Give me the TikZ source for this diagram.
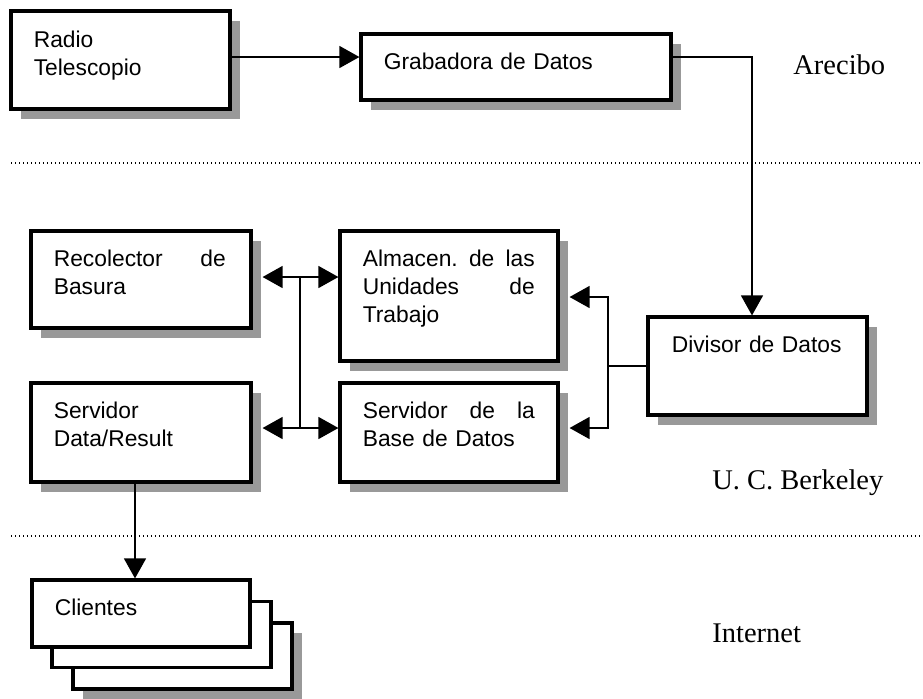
\documentclass[tikz,border=0pt]{standalone}
\usepackage{fontspec}
\setmainfont{Liberation Serif}
\setsansfont{Liberation Sans}
\usetikzlibrary{
arrows.meta,
calc,
positioning,
shadows
}

\begin{document}
\begin{tikzpicture}[x=0.5pt, y=-0.5pt, font=\sffamily\fontsize{11.4}{14}\selectfont]
		\definecolor{shadowcolor}{gray}{0.6}
		\tikzset{flat/.style={draw, line width=1.6pt, fill=white, inner sep=0pt}}
		\tikzset{box/.style={flat, drop shadow={shadow xshift=5pt, shadow yshift=-5pt, fill=shadowcolor, opacity=1}}}
		\tikzset{txt/.style={below right, inner sep=0pt, text width=86pt, align=left}}
		\tikzset{sa/.style={-{Triangle[length=10pt,width=11pt]}, line width=0.7pt}}
		\tikzset{sep/.style={dash pattern=on 0.6pt off 1.4pt, line width=0.6pt}}
		\tikzset{site/.style={anchor=base west, inner sep=0pt, font=\rmfamily\fontsize{14.25}{17}\selectfont}}

		\useasboundingbox (0,0) rectangle (923,698);

		% Arecibo
		\node[box, minimum width=109.5pt, minimum height=49pt] (radio) at (120.5,60) {};
		\node[txt] at ([xshift=12pt,yshift=-10.5pt]radio.north west) {Radio\\Telescopio};

		\node[box, minimum width=155pt, minimum height=33pt] (grab) at (516,67) {};
		\node[txt, text width=140pt] at ([xshift=12pt,yshift=-10pt]grab.north west) {Grabadora de Datos};

		\node[site] (arecibo) at (793,74) {Arecibo};
		\draw[sep] (11,163) -- (923,163);

		% U. C. Berkeley
		\node[box, minimum width=110pt, minimum height=48.5pt] (recol) at (141,279.5) {};
		\node[txt] at ([xshift=12pt,yshift=-10pt]recol.north west) {Recolector\hfill de\\Basura};

		\node[box, minimum width=109pt, minimum height=65pt] (almac) at (449,296) {};
		\node[txt] at ([xshift=12pt,yshift=-10pt]almac.north west) {Almacen.\hfill de\hfill las\\Unidades\hfill de\\Trabajo};

		\node[box, minimum width=109.5pt, minimum height=49pt] (divis) at (757.5,366) {};
		\node[txt] at ([xshift=12.5pt,yshift=-10pt]divis.north west) {Divisor de Datos};

		\node[box, minimum width=110pt, minimum height=49.5pt] (servdr) at (141,432.5) {};
		\node[txt] at ([xshift=12pt,yshift=-10pt]servdr.north west) {Servidor\\Data/Result};

		\node[box, minimum width=109pt, minimum height=49.5pt] (servbd) at (449,432.5) {};
		\node[txt] at ([xshift=12pt,yshift=-10pt]servbd.north west) {Servidor\hfill de\hfill la\\Base de Datos};

		\node[site] (berkeley) at (712,489) {U. C. Berkeley};
		\draw[sep] (11,536) -- (923,536);

		% Internet
		\node[box, minimum width=109.5pt, minimum height=33pt] (cli3) at (182.5,656) {};
		\node[flat, minimum width=109.5pt, minimum height=33pt] (cli2) at (161.5,634.5) {};
		\node[flat, minimum width=109pt, minimum height=33.5pt] (cli1) at (141,613.5) {};
		\node[txt] at ([xshift=12pt,yshift=-10pt]cli1.north west) {Clientes};

		\node[site] (internet) at (712,642) {Internet};

		% Connectors
		\coordinate (bustop) at (300,277);
		\coordinate (busbot) at (300,428);
		\coordinate (forktop) at (608,297);
		\coordinate (forkbot) at (608,428);

		\draw[sa] ([yshift=1.5pt]radio.east) -- ([yshift=1.5pt]radio.east -| grab.west);
		\draw[sa] ([yshift=5pt]grab.east) -| ([xshift=-2.75pt]divis.north);
		\draw[line width=0.7pt] (bustop) -- (busbot);
		\draw[sa] (bustop) -- ([xshift=5pt]bustop -| recol.east);
		\draw[sa] (bustop) -- (bustop -| almac.west);
		\draw[sa] (busbot) -- ([xshift=5pt]busbot -| servdr.east);
		\draw[sa] (busbot) -- (busbot -| servbd.west);
		\draw[sa] (divis.west) -| (forktop) -- ([xshift=5pt]forktop -| almac.east);
		\draw[sa] (divis.west) -| (forkbot) -- ([xshift=5pt]forkbot -| servbd.east);
		\draw[sa] ([xshift=-3pt]servdr.south) -- ([xshift=-3pt]servdr.south |- cli1.north);
	\end{tikzpicture}
\end{document}
